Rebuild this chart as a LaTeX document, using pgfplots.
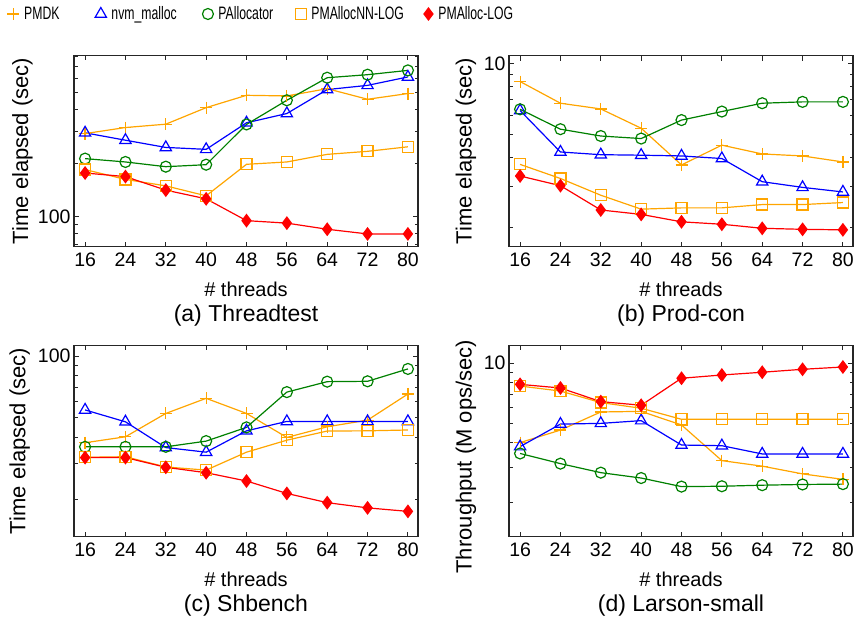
\documentclass[border=0pt]{standalone}
\usepackage{fontspec}
\setmainfont{Liberation Sans}
\newfontfamily\legendfont[FakeStretch=0.68]{Liberation Sans}
\usepackage{pgfplots}
\usepackage{pgfplotstable}
\pgfplotsset{compat=1.18}
\definecolor{cOrange}{RGB}{255,165,0}
\definecolor{cBlue}{RGB}{0,0,255}
\definecolor{cGreen}{RGB}{0,128,0}
\definecolor{cRed}{RGB}{255,0,0}

\pgfplotstableread{
x pmdk nvm palloc nn log
16 293 296 212 184 176
24 317 269 203 162 168
32 331 245 191 149 141
40 410 239 196 131 126
48 481 337 330 197 95
56 477 380 451 203 92
64 524 518 604 224 85
72 457 547 628 233 80
80 492 610 664 247 80
}\tA
\pgfplotstableread{
x pmdk nvm palloc nn log
16 8.37 6.30 6.38 3.72 3.32
24 6.77 4.20 5.25 3.24 3.02
32 6.40 4.09 4.91 2.75 2.38
40 5.30 4.07 4.79 2.40 2.28
48 3.70 4.04 5.74 2.43 2.12
56 4.49 3.94 6.24 2.43 2.07
64 4.12 3.14 6.77 2.51 1.99
72 4.04 2.97 6.86 2.51 1.97
80 3.81 2.84 6.86 2.56 1.96
}\tB
\pgfplotstableread{
x pmdk nvm palloc nn log
16 37.8 54.6 36.1 32.1 32.0
24 40.4 47.8 36.1 32.3 32.0
32 52.5 35.8 36.1 28.8 28.7
40 62.2 34.0 38.5 27.8 27.0
48 52.5 43.2 44.9 34.0 24.6
56 40.1 48.0 66.7 38.9 21.4
64 45.2 48.0 75.0 43.1 19.3
72 48.7 48.0 75.3 43.2 18.2
80 65.3 48.0 86.5 43.6 17.5
}\tC
\pgfplotstableread{
x pmdk nvm palloc nn log
16 4.00 3.82 3.53 7.67 7.82
24 4.62 4.95 3.14 7.24 7.50
32 5.69 4.99 2.83 6.34 6.41
40 5.73 5.15 2.66 5.94 6.15
48 4.90 3.89 2.41 5.23 8.39
56 3.25 3.86 2.42 5.23 8.71
64 3.05 3.51 2.45 5.23 8.99
72 2.79 3.51 2.47 5.23 9.30
80 2.62 3.51 2.48 5.23 9.55
}\tD

\pgfplotsset{
  mypanel/.style={
    scale only axis, width=344bp, height=191bp,
    xmin=13.8, xmax=82,
    xtick={16,24,...,80}, xticklabels={16,24,32,40,48,56,64,72,80},
    tick align=inside, tick pos=both, ticklabel pos=left,
    major tick length=5bp, minor tick length=3.5bp,
    axis line style={line width=1.2bp, black!85},
    tick style={line width=0.9bp, black!85},
    tick label style={font=\fontsize{19.5bp}{23bp}\selectfont},
    xticklabel style={yshift=-3bp},
    xlabel={\# threads},
    every axis x label/.style={at={(axis description cs:0.5,-0.225)}, anchor=center, font=\fontsize{20bp}{24bp}\selectfont},
    every axis title/.style={at={(axis description cs:0.5,-0.36)}, anchor=center, font=\fontsize{23bp}{27bp}\selectfont},
  },
  sPMDK/.style={cOrange, line width=1.2bp, mark=+, mark size=6bp, mark options={solid}},
  sNVM/.style={cBlue, line width=1.2bp, mark=triangle, mark size=6.5bp, mark options={solid, fill=none}},
  sPAL/.style={cGreen, line width=1.2bp, mark=o, mark size=5.5bp, mark options={solid, fill=none}},
  sNN/.style={cOrange, line width=1.2bp, mark=square, mark size=5.5bp, mark options={solid, fill=none}},
  sLOG/.style={cRed, line width=1.2bp, mark=diamond*, mark size=6bp, mark options={solid, fill=cRed}},
}

\begin{document}
\begin{tikzpicture}
\useasboundingbox (0,0) rectangle (855bp,-622bp);

% (a)
\begin{axis}[mypanel, ymode=log, at={(74bp,-246.5bp)}, anchor=south west,
  ymin=68, ymax=805, ytick={100}, yticklabels={100},
  minor ytick={70,80,90,200,300,400,500,600,700,800},
  ylabel={Time elapsed (sec)},
  every axis y label/.style={at={(axis description cs:-0.150,0.5)}, rotate=90, anchor=center, font=\fontsize{22bp}{26bp}\selectfont},
  title={(a) Threadtest},
  legend columns=5, legend cell align=left,
  legend image code/.code={\path[draw=none,fill=none] (-5bp,-5bp) rectangle (5bp,5bp); \draw[#1] plot coordinates {(0bp,0bp)};},
  legend style={at={(axis description cs:-0.1948,1.2173)}, anchor=west, draw=none, fill=none,
    inner sep=0pt, nodes={inner sep=0pt},
    font=\legendfont\fontsize{18bp}{21bp}\selectfont,
    /tikz/every odd column/.style={column sep=5bp},
    /tikz/every even column/.style={column sep=0bp}},
]
\addplot[sPMDK] table[x=x,y=pmdk]{\tA}; \addlegendentry{\makebox[71bp][l]{PMDK}}
\addplot[sNVM] table[x=x,y=nvm]{\tA}; \addlegendentry{\makebox[91bp][l]{nvm\_malloc}}
\addplot[sPAL] table[x=x,y=palloc]{\tA}; \addlegendentry{\makebox[77bp][l]{PAllocator}}
\addplot[sNN] table[x=x,y=nn]{\tA}; \addlegendentry{\makebox[112bp][l]{PMAllocNN-LOG}}
\addplot[sLOG] table[x=x,y=log]{\tA}; \addlegendentry{PMAlloc-LOG}
\end{axis}

% (b)
\begin{axis}[mypanel, ymode=log, at={(509bp,-246.5bp)}, anchor=south west,
  ymin=1.665, ymax=10.8, ytick={10}, yticklabels={10},
  minor ytick={2,3,4,5,6,7,8,9},
  ylabel={Time elapsed (sec)},
  every axis y label/.style={at={(axis description cs:-0.125,0.5)}, rotate=90, anchor=center, font=\fontsize{22bp}{26bp}\selectfont},
  title={(b) Prod-con},
]
\addplot[sPMDK] table[x=x,y=pmdk]{\tB};
\addplot[sNVM] table[x=x,y=nvm]{\tB};
\addplot[sPAL] table[x=x,y=palloc]{\tB};
\addplot[sNN] table[x=x,y=nn]{\tB};
\addplot[sLOG] table[x=x,y=log]{\tB};
\end{axis}

% (c)
\begin{axis}[mypanel, ymode=log, at={(74bp,-536.5bp)}, anchor=south west,
  ymin=13.2, ymax=112.5, ytick={100}, yticklabels={100},
  minor ytick={20,30,40,50,60,70,80,90},
  ylabel={Time elapsed (sec)},
  every axis y label/.style={at={(axis description cs:-0.158,0.5)}, rotate=90, anchor=center, font=\fontsize{22bp}{26bp}\selectfont},
  title={(c) Shbench},
]
\addplot[sPMDK] table[x=x,y=pmdk]{\tC};
\addplot[sNVM] table[x=x,y=nvm]{\tC};
\addplot[sPAL] table[x=x,y=palloc]{\tC};
\addplot[sNN] table[x=x,y=nn]{\tC};
\addplot[sLOG] table[x=x,y=log]{\tC};
\end{axis}

% (d)
\begin{axis}[mypanel, ymode=log, at={(509bp,-536.5bp)}, anchor=south west,
  ymin=1.357, ymax=12.23, ytick={10}, yticklabels={10},
  minor ytick={2,3,4,5,6,7,8,9},
  ylabel={Throughput (M ops/sec)},
  every axis y label/.style={at={(axis description cs:-0.125,0.418)}, rotate=90, anchor=center, font=\fontsize{22bp}{26bp}\selectfont},
  title={(d) Larson-small},
]
\addplot[sPMDK] table[x=x,y=pmdk]{\tD};
\addplot[sNVM] table[x=x,y=nvm]{\tD};
\addplot[sPAL] table[x=x,y=palloc]{\tD};
\addplot[sNN] table[x=x,y=nn]{\tD};
\addplot[sLOG] table[x=x,y=log]{\tD};
\end{axis}
\end{tikzpicture}
\end{document}
